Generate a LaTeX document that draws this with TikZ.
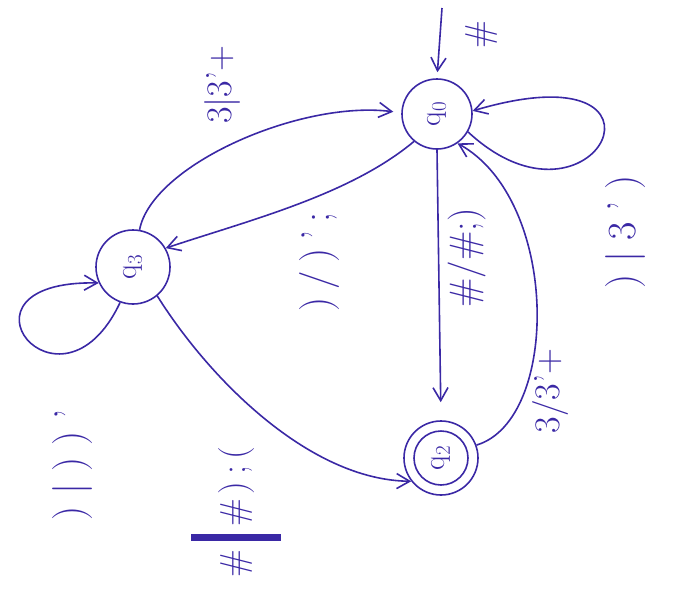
\documentclass[tikz,border=0pt]{standalone}
\usetikzlibrary{arrows.meta}
\definecolor{ink}{RGB}{58,40,165}
\begin{document}
\begin{tikzpicture}[x=1pt,y=-1pt,
  state/.style={circle,draw=ink,line width=1.6pt,minimum size=70pt,inner sep=0pt,text=ink,
    font=\fontsize{30}{34}\selectfont},
  arr/.style={draw=ink,line width=1.6pt,-{Straight Barb[length=13pt,width=15pt]}},
  lab/.style={text=ink,rotate=90,inner sep=1pt,font=\fontsize{36}{42}\selectfont}]
\useasboundingbox (0,0) rectangle (675,595);
% states
\node[state] (q0) at (437,114) {\rotatebox{90}{q\textsubscript{0}}};
\node[state,minimum size=74pt] (q3) at (133,267) {\rotatebox{90}{q\textsubscript{3}}};
\node[state,minimum size=74pt] (q2) at (441,458) {};
\node[state,minimum size=54pt] (q2in) at (q2) {\rotatebox{90}{q\textsubscript{2}}};
% initial arrow
\coordinate (i0) at (442,8);
\draw[arr,shorten >=6pt] (i0) -- (q0.north);
\node[lab] (l0) at (482,35) {\#};
% transitions
\draw[arr] (q0.-30) .. controls (595,250) and (695,45) .. (q0.5);
\node[lab,font=\fontsize{40}{46}\selectfont] (l1) at (625,232) {)\kern0.28em|\kern0.28em3\kern0.28em'\kern0.28em)};
\draw[arr,shorten >=18pt] (q0.south) -- (q2.north);
\node[lab,font=\fontsize{38}{44}\selectfont] (l2) at (467,258) {\#/\#;)};
\draw[arr] (q2.20) .. controls (560,420) and (560,200) .. (q0.-55);
\node[lab] (l3) at (550,391) {3/3'+};
\draw[arr,shorten >=8pt] (q3.80) .. controls (152,165) and (300,100) .. (q0.178);
\node[lab] (l4) at (222,85) {3|3'+};
\draw[arr] (q0.-130) .. controls (350,195) and (250,220) .. (q3.30);
\node[lab,font=\fontsize{40}{46}\selectfont] (l5) at (320,262) {)\kern0.2em/\kern0.2em)\kern0.2em'\kern0.2em;};
\draw[arr] (q3.-110) .. controls (60,430) and (-60,280) .. (q3.205);
\node[lab,font=\fontsize{40}{46}\selectfont] (l6) at (72,465) {)\kern0.3em|\kern0.3em)\kern0.3em)\kern0.3em'};
\draw[arr] (q3.-50) .. controls (210,380) and (310,480) .. (q2.218);
\node[lab] (l7) at (236,512) {\#\kern0.22em\rule[-1.0em]{0.2em}{2.5em}\kern0.22em\#\kern0.1em)\kern0.22em;\kern0.16em(};
\end{tikzpicture}
\end{document}
